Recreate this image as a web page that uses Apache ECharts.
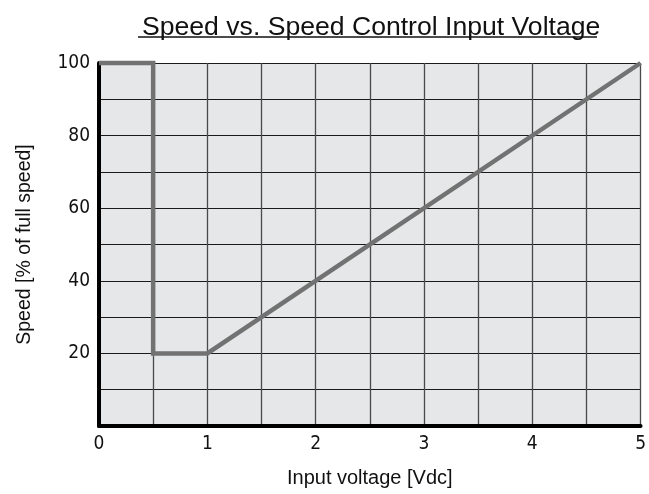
<!DOCTYPE html>
<html><head><meta charset="utf-8">
<script src="https://cdn.jsdelivr.net/npm/echarts@6/dist/echarts.min.js"></script>
<style>html,body{margin:0;padding:0;background:#fff}#c{width:649px;height:494px}</style>
</head><body><div id="c"></div>
<script>
const titleText = 'Speed vs. Speed Control Input Voltage';
const xName = 'Input voltage [Vdc]';
const yName = 'Speed [% of full speed]';
const voltage = [0, 0.5, 0.5, 1, 5];
const speed = [100, 100, 20, 20, 100];
const xTicks = [0, 1, 2, 3, 4, 5];
const yTicks = [20, 40, 60, 80, 100];

const sans = '"Liberation Sans", Arial, sans-serif';
const condensed = '"Liberation Sans Narrow", "DejaVu Sans Condensed", Roboto, sans-serif';
const chart = echarts.init(document.getElementById('c'));
chart.setOption({
  animation: false,
  backgroundColor: '#fff',
  title: {
    text: titleText, left: 137, top: 9,
    textStyle: {fontFamily: sans, fontSize: 26.6, fontWeight: 'normal', color: '#111'}
  },
  graphic: [{
    type: 'line', shape: {x1: 138, y1: 37, x2: 597, y2: 37},
    style: {stroke: '#111', lineWidth: 1.6}
  }],
  grid: {left: 99, right: 7, top: 63, bottom: 68, show: true, backgroundColor: '#e6e7e8', borderWidth: 0},
  xAxis: {
    type: 'value', min: 0, max: 5, interval: 1,
    name: xName, nameLocation: 'middle', nameGap: 42,
    nameTextStyle: {fontFamily: sans, fontSize: 20, color: '#111'},
    axisLine: {show: true, lineStyle: {color: '#000', width: 4}},
    axisTick: {show: false},
    axisLabel: {margin: 9, fontFamily: condensed, fontSize: 19, color: '#111',
      formatter: v => xTicks.includes(v) ? String(v) : ''},
    splitLine: {show: true, lineStyle: {color: '#4a4a4a', width: 1.3}},
    minorTick: {show: false, splitNumber: 2},
    minorSplitLine: {show: true, lineStyle: {color: '#4a4a4a', width: 1.3}}
  },
  yAxis: {
    type: 'value', min: 0, max: 100, interval: 20,
    name: yName, nameLocation: 'middle', nameGap: 64, nameRotate: 90,
    nameTextStyle: {fontFamily: sans, fontSize: 19.5, color: '#111'},
    axisLine: {show: true, lineStyle: {color: '#000', width: 4}},
    axisTick: {show: false},
    axisLabel: {margin: 9, fontFamily: condensed, fontSize: 19, color: '#111',
      formatter: v => yTicks.includes(v) ? String(v) : ''},
    splitLine: {show: true, lineStyle: {color: '#1a1a1a', width: 1.2}},
    minorTick: {show: false, splitNumber: 2},
    minorSplitLine: {show: true, lineStyle: {color: '#1a1a1a', width: 1.2}}
  },
  series: [{
    type: 'line', data: voltage.map((v, i) => [v, speed[i]]),
    symbol: 'none', clip: false,
    lineStyle: {color: '#727272', width: 4.5, join: 'miter'}
  }]
});
</script></body></html>
